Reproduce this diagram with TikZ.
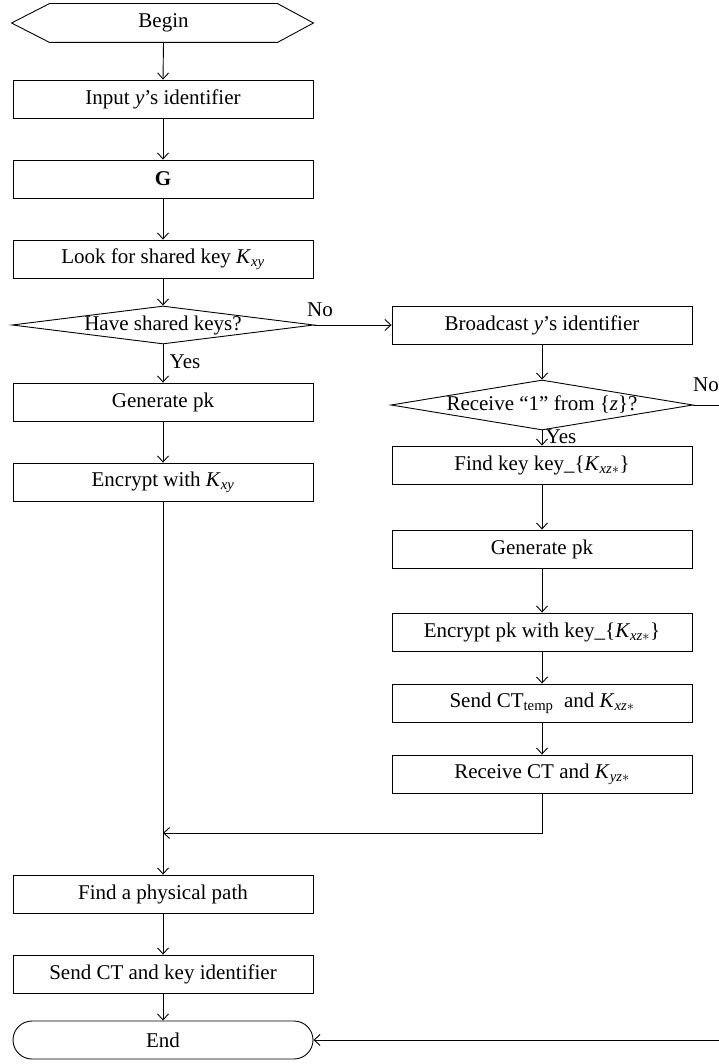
\documentclass[tikz,border=0pt]{standalone}
\usepackage{fontspec}
\setmainfont{Liberation Serif}
\usetikzlibrary{arrows.meta,shapes.geometric,calc}
% key symbols
\newcommand\Kk[1]{\textit{K}\textsubscript{\textit{#1}}}
\newcommand\Ks[1]{\textit{K}\textsubscript{\textit{#1}$\ast$}}
\begin{document}
\begin{tikzpicture}[x=1pt,y=-1pt,line width=0.9pt,
  font=\fontsize{21}{24}\selectfont,
  box/.style={draw,minimum width=300pt,minimum height=38pt,inner sep=0pt},
  dia/.style={draw,diamond,inner sep=0pt,minimum width=302pt,minimum height=#1},
  dia/.default=38pt,
  arr/.style={-{Straight Barb[length=6pt,width=11pt]}},
  lbl/.style={inner sep=0pt}]
\useasboundingbox (0,0) rectangle (719,1064);

% left column
\node[minimum width=227pt,minimum height=38pt,inner sep=0pt] (begin) at (163.5,23) {Begin};
\draw (begin.north west) -- (begin.north east) -- ($(begin.east)+(36,0)$)
  -- (begin.south east) -- (begin.south west) -- ($(begin.west)+(-38,0)$) -- cycle;
\node[box] (input) at (163,99) {Input \textit{y}’s identifier};
\node[box] (g) at (163,179) {\textbf{G}};
\node[box] (look) at (163,259) {Look for shared key \Kk{xy}};
\node[dia,label={center:Have shared keys?}] (d1) at (163,325) {};
\node[box] (gen1) at (163,402) {Generate pk};
\node[box] (enc1) at (163,482) {Encrypt with \Kk{xy}};
\node[box] (path) at (163,894) {Find a physical path};
\node[box] (send) at (163,974) {Send CT and key identifier};
\node[box,rounded corners=19pt] (end) at (163,1040) {End};

% right column
\node[box] (bcast) at (542,325) {Broadcast \textit{y}’s identifier};
\node[dia=50pt,label={center:Receive “1” from \{\textit{z}\}?}] (d2) at (542,405) {};
\node[box] (find) at (542,465) {Find key key\_\{\Ks{xz}\}};
\node[box] (gen2) at (542,549) {Generate pk};
\node[box] (enc2) at (542,632) {Encrypt pk with key\_\{\Ks{xz}\}};
\node[box] (sendt) at (542,703) {Send CT\textsubscript{temp}\ \ and \Ks{xz}};
\node[box] (recv) at (542,774) {Receive CT and \Ks{yz}};

% branch labels
\node[lbl] (no1) at (320,310) {No};
\node[lbl] (yes1) at (185,362) {Yes};
\node[lbl] (no2) at (706,385) {No};
\node[lbl] (yes2) at (561,437) {Yes};

\coordinate (merge) at (163,833);
\coordinate (rtop) at (730,405);
\coordinate (rbot) at (730,1040);

% connectors
\draw[arr] (begin.south) -- (input.north);
\draw[arr] (input.south) -- (g.north);
\draw[arr] (g.south) -- (look.north);
\draw[arr] (look.south) -- (d1.north);
\draw[arr] (d1.south) -- (gen1.north);
\draw[arr] (gen1.south) -- (enc1.north);
\draw[arr] (enc1.south) -- (path.north);
\draw[arr] (path.south) -- (send.north);
\draw[arr] (send.south) -- (end.north);
\draw[arr] (d1.east) -- (bcast.west);
\draw[arr] (bcast.south) -- (d2.north);
\draw[arr] (d2.south) -- (find.north);
\draw[arr] (find.south) -- (gen2.north);
\draw[arr] (gen2.south) -- (enc2.north);
\draw[arr] (enc2.south) -- (sendt.north);
\draw[arr] (sendt.south) -- (recv.north);
\draw[arr] (recv.south) |- (merge);
\draw[arr] (d2.east) -- (rtop) -- (rbot) -- (end.east);
\end{tikzpicture}
\end{document}
